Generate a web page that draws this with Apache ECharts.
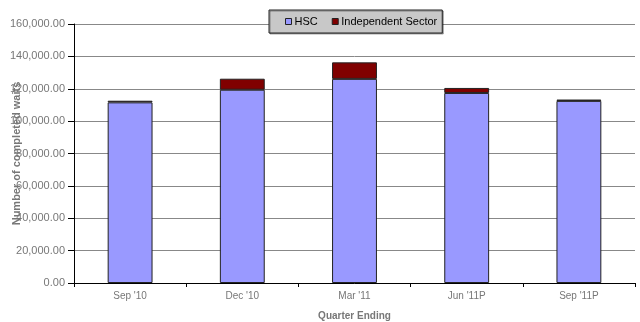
<!DOCTYPE html>
<html>
<head>
<meta charset="utf-8">
<script src="https://cdn.jsdelivr.net/npm/echarts@6/dist/echarts.min.js"></script>
<style>
html,body{margin:0;padding:0;background:#fff;}
#chart{width:640px;height:322px;}
</style>
</head>
<body>
<div id="chart"></div>
<script>
var categories = ["Sep '10", "Dec '10", "Mar '11", "Jun '11P", "Sep '11P"];
var hscValues = [111600, 119400, 126100, 117400, 112500];
var independentValues = [1000, 6800, 10200, 3100, 800];
var seriesNames = ["HSC", "Independent Sector"];
var yAxisTitle = "Number of completed waits";
var xAxisTitle = "Quarter Ending";

var FONT = "'Liberation Sans', Arial, sans-serif";
var chart = echarts.init(document.getElementById('chart'), null, {renderer: 'canvas'});
chart.setOption({
  animation: false,
  backgroundColor: '#fff',
  textStyle: {fontFamily: FONT},
  grid: {left: 74, right: 5, top: 24, bottom: 39, containLabel: false, outerBoundsMode: 'none'},
  legend: {
    data: seriesNames,
    left: 269,
    top: 10,
    padding: [6, 5, 6, 16],
    itemWidth: 6,
    itemHeight: 6,
    itemGap: 14,
    icon: 'rect',
    backgroundColor: '#c8c8c8',
    borderColor: '#222',
    borderWidth: 1,
    shadowColor: 'rgba(0,0,0,0.35)',
    shadowOffsetX: 1,
    shadowOffsetY: 1,
    shadowBlur: 0,
    textStyle: {color: '#000', fontSize: 11, fontFamily: FONT, padding: [0, 0, 0, -2]},
    itemStyle: {borderColor: '#222', borderWidth: 1}
  },
  xAxis: {
    type: 'category',
    data: categories,
    name: xAxisTitle,
    nameLocation: 'middle',
    nameGap: 28,
    nameMoveOverlap: false,
    nameTextStyle: {color: '#777', fontSize: 10, fontWeight: 'bold', fontFamily: FONT},
    axisLine: {lineStyle: {color: '#000', width: 1}},
    axisTick: {show: true, inside: false, length: 4, lineStyle: {color: '#000'}},
    axisLabel: {color: '#777', fontSize: 10, margin: 8, fontFamily: FONT}
  },
  yAxis: {
    type: 'value',
    min: 0,
    max: 160000,
    interval: 20000,
    name: yAxisTitle,
    nameLocation: 'middle',
    nameGap: 52,
    nameRotate: 90,
    nameMoveOverlap: false,
    nameTextStyle: {color: '#777', fontSize: 11, fontWeight: 'bold', fontFamily: FONT},
    axisLine: {show: true, lineStyle: {color: '#000', width: 1}},
    axisTick: {show: true, inside: false, length: 6, lineStyle: {color: '#000'}},
    axisLabel: {
      color: '#777', fontSize: 11, margin: 9, fontFamily: FONT,
      formatter: function (v) {
        return v.toLocaleString('en-US', {minimumFractionDigits: 2, maximumFractionDigits: 2});
      }
    },
    splitLine: {show: true, lineStyle: {color: '#888', width: 1}}
  },
  series: [
    {
      name: seriesNames[0],
      type: 'bar',
      stack: 'total',
      data: hscValues,
      barWidth: '40%',
      itemStyle: {color: '#9999ff', borderColor: '#222', borderWidth: 1}
    },
    {
      name: seriesNames[1],
      type: 'bar',
      stack: 'total',
      data: independentValues,
      barWidth: '40%',
      itemStyle: {color: '#800000', borderColor: '#222', borderWidth: 1}
    }
  ]
});
</script>
</body>
</html>
